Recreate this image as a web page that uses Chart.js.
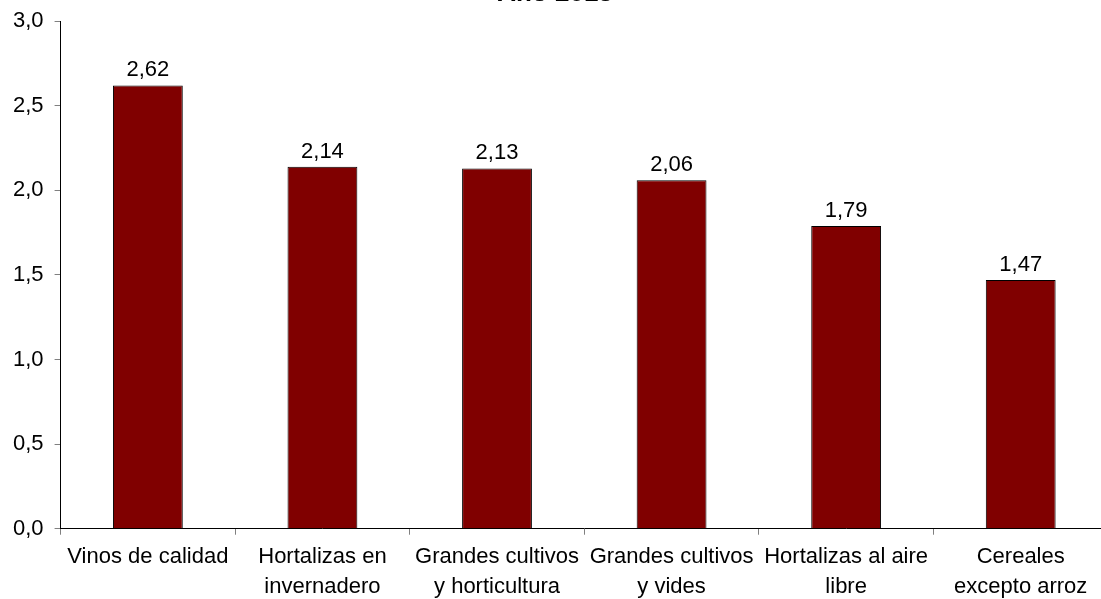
<!DOCTYPE html>
<html>
<head>
<meta charset="utf-8">
<script src="https://cdn.jsdelivr.net/npm/chart.js@4.4.0/dist/chart.umd.min.js"></script>
<style>
    html, body { margin: 0; padding: 0; background: #fff; overflow: hidden; width: 1101px; height: 599px; }
    #wrap { position: absolute; left: 0; top: -22px; width: 1110px; height: 631px; }
</style>
</head>
<body>
<div id="wrap"><canvas id="chart" width="1110" height="631"></canvas></div>
<script>
const titleText = 'Año 2013';
const categories = [
    'Vinos de calidad',
    ['Hortalizas en', 'invernadero'],
    ['Grandes cultivos', 'y horticultura'],
    ['Grandes cultivos', 'y vides'],
    ['Hortalizas al aire', 'libre'],
    ['Cereales', 'excepto arroz']
];
const values = [2.62, 2.14, 2.13, 2.06, 1.79, 1.47];
const yTicks = [0, 0.5, 1, 1.5, 2, 2.5, 3];

const fontFamily = '"Liberation Sans", Arial, sans-serif';
const comma = (v, d) => v.toFixed(d).replace('.', ',');

// value labels above each bar
const valueLabels = {
    id: 'valueLabels',
    afterDatasetsDraw(chart) {
        const ctx = chart.ctx;
        const meta = chart.getDatasetMeta(0);
        ctx.save();
        ctx.font = '22px ' + fontFamily;
        ctx.fillStyle = '#000';
        ctx.textAlign = 'center';
        ctx.textBaseline = 'alphabetic';
        meta.data.forEach((bar, i) => {
            ctx.fillText(comma(values[i], 2), bar.x, bar.y - 9);
        });
        ctx.restore();
    }
};

new Chart(document.getElementById('chart').getContext('2d'), {
    type: 'bar',
    data: {
        labels: categories,
        datasets: [{
            data: values,
            backgroundColor: '#800000',
            borderColor: '#000',
            borderWidth: 1,
            barPercentage: 0.8,
            categoryPercentage: 0.5
        }]
    },
    options: {
        responsive: false,
        animation: false,
        layout: { padding: { left: 2, right: 2, bottom: 0 } },
        plugins: {
            legend: { display: false },
            tooltip: { enabled: false },
            title: {
                display: true,
                text: titleText,
                color: '#000',
                font: { family: fontFamily, size: 26, weight: 'bold' },
                padding: { top: 0, bottom: 12 }
            }
        },
        scales: {
            x: {
                grid: { display: true, drawOnChartArea: false, tickLength: 6, color: '#808080' },
                border: { color: '#000', width: 1 },
                ticks: {
                    color: '#000',
                    padding: 7,
                    maxRotation: 0,
                    autoSkip: false,
                    font: { family: fontFamily, size: 22, lineHeight: 1.37 }
                }
            },
            y: {
                min: 0,
                max: 3,
                afterBuildTicks(scale) { scale.ticks = yTicks.map(v => ({ value: v })); },
                grid: { display: true, drawOnChartArea: false, tickLength: 6, color: '#808080' },
                border: { color: '#000', width: 1 },
                ticks: {
                    color: '#000',
                    padding: 11,
                    font: { family: fontFamily, size: 22 },
                    callback: v => comma(v, 1)
                }
            }
        }
    },
    plugins: [valueLabels]
});
</script>
</body>
</html>
